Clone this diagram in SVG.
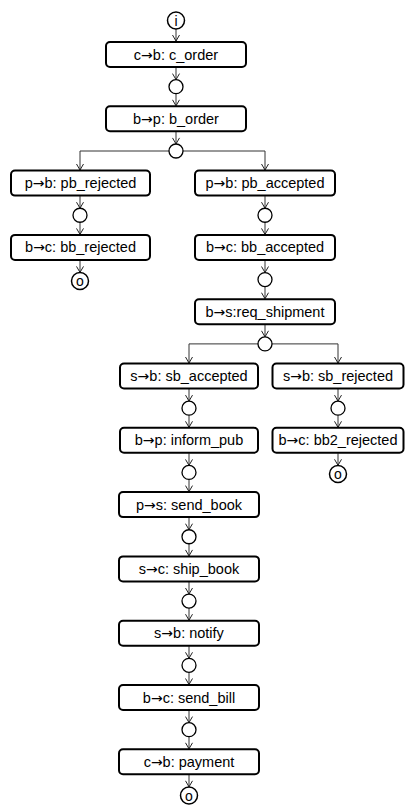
<svg xmlns="http://www.w3.org/2000/svg" width="407" height="806" viewBox="0 0 407 806">
<style>
.box{fill:#fff;stroke:#000;stroke-width:2}
.lbl{font-family:"Liberation Sans",Arial,sans-serif;font-size:14.5px;fill:#000;text-anchor:middle;dominant-baseline:central}
.ar{font-family:"DejaVu Sans",sans-serif;font-size:14px}
.pl{fill:#fff;stroke:#000;stroke-width:1.3}
.term{fill:#fff;stroke:#000;stroke-width:1.5}
.tl{font-family:"Liberation Sans",Arial,sans-serif;font-size:14px;fill:#000;text-anchor:middle;dominant-baseline:central}
.c{fill:none;stroke:#333;stroke-width:1}
</style>
<defs>
<marker id="ah" markerUnits="userSpaceOnUse" markerWidth="8" markerHeight="9" refX="6" refY="3.5" orient="auto" viewBox="-1 -1 8 9">
<path d="M0,0 L6,3.5 L0,7" fill="none" stroke="#222" stroke-width="1"/>
</marker>
</defs>
<g id="connectors">
<line class="c" x1="176" y1="29" x2="176" y2="41" marker-end="url(#ah)"/>
<line class="c" x1="176" y1="67.5" x2="176" y2="79.6" marker-end="url(#ah)"/>
<line class="c" x1="176" y1="93.7" x2="176" y2="105.8" marker-end="url(#ah)"/>
<line class="c" x1="176" y1="131.8" x2="176" y2="143.9" marker-end="url(#ah)"/>
<polyline class="c" points="169,151 80,151 80,170" marker-end="url(#ah)"/>
<polyline class="c" points="183,151 265,151 265,170" marker-end="url(#ah)"/>
<line class="c" x1="80" y1="196.1" x2="80" y2="208.2" marker-end="url(#ah)"/>
<line class="c" x1="80" y1="222.3" x2="80" y2="234.4" marker-end="url(#ah)"/>
<line class="c" x1="80" y1="260.4" x2="80" y2="272.4" marker-end="url(#ah)"/>
<line class="c" x1="265" y1="196.1" x2="265" y2="208.2" marker-end="url(#ah)"/>
<line class="c" x1="265" y1="222.3" x2="265" y2="234.4" marker-end="url(#ah)"/>
<line class="c" x1="265" y1="260.4" x2="265" y2="272.5" marker-end="url(#ah)"/>
<line class="c" x1="265" y1="286.6" x2="265" y2="298.7" marker-end="url(#ah)"/>
<line class="c" x1="265" y1="324.7" x2="265" y2="336.8" marker-end="url(#ah)"/>
<polyline class="c" points="258,343.9 189,343.9 189,363" marker-end="url(#ah)"/>
<polyline class="c" points="272,343.9 338,343.9 338,363" marker-end="url(#ah)"/>
<line class="c" x1="338" y1="389" x2="338" y2="401.1" marker-end="url(#ah)"/>
<line class="c" x1="338" y1="415.2" x2="338" y2="427.3" marker-end="url(#ah)"/>
<line class="c" x1="338" y1="453.3" x2="338" y2="465.3" marker-end="url(#ah)"/>
<line class="c" x1="189" y1="389" x2="189" y2="401.1" marker-end="url(#ah)"/>
<line class="c" x1="189" y1="415.2" x2="189" y2="427.3" marker-end="url(#ah)"/>
<line class="c" x1="189" y1="453.3" x2="189" y2="465.4" marker-end="url(#ah)"/>
<line class="c" x1="189" y1="479.5" x2="189" y2="491.6" marker-end="url(#ah)"/>
<line class="c" x1="189" y1="517.6" x2="189" y2="529.7" marker-end="url(#ah)"/>
<line class="c" x1="189" y1="543.8" x2="189" y2="555.9" marker-end="url(#ah)"/>
<line class="c" x1="189" y1="581.9" x2="189" y2="594" marker-end="url(#ah)"/>
<line class="c" x1="189" y1="608.1" x2="189" y2="620.2" marker-end="url(#ah)"/>
<line class="c" x1="189" y1="646.2" x2="189" y2="658.3" marker-end="url(#ah)"/>
<line class="c" x1="189" y1="672.4" x2="189" y2="684.5" marker-end="url(#ah)"/>
<line class="c" x1="189" y1="710.5" x2="189" y2="722.6" marker-end="url(#ah)"/>
<line class="c" x1="189" y1="736.7" x2="189" y2="748.8" marker-end="url(#ah)"/>
<line class="c" x1="189" y1="774.8" x2="189" y2="786.8" marker-end="url(#ah)"/>
</g>
<g id="start"><circle class="term" cx="176" cy="20.5" r="8.5"/><text class="tl" x="176" y="20.5">i</text></g>
<g id="n_c_order"><rect class="box" x="106" y="42" width="140" height="25" rx="4"/><text class="lbl" x="176" y="54.5">c<tspan class="ar">→</tspan>b: c_order</text></g>
<g id="p1"><circle class="pl" cx="176" cy="86.65" r="7"/></g>
<g id="n_b_order"><rect class="box" x="106" y="106.3" width="140" height="25" rx="4"/><text class="lbl" x="176" y="118.8">b<tspan class="ar">→</tspan>p: b_order</text></g>
<g id="p2"><circle class="pl" cx="176" cy="151" r="7"/></g>
<g id="n_pb_rejected"><rect class="box" x="11" y="170.6" width="139" height="25" rx="4"/><text class="lbl" x="80.5" y="183.1">p<tspan class="ar">→</tspan>b: pb_rejected</text></g>
<g id="p3"><circle class="pl" cx="80" cy="215.25" r="7"/></g>
<g id="n_bb_rejected"><rect class="box" x="11" y="234.9" width="139" height="25" rx="4"/><text class="lbl" x="80.5" y="247.4">b<tspan class="ar">→</tspan>c: bb_rejected</text></g>
<g id="end1"><circle class="term" cx="80" cy="281" r="8.5"/><text class="tl" x="80" y="281">o</text></g>
<g id="n_pb_accepted"><rect class="box" x="195" y="170.6" width="140" height="25" rx="4"/><text class="lbl" x="265" y="183.1">p<tspan class="ar">→</tspan>b: pb_accepted</text></g>
<g id="p4"><circle class="pl" cx="265" cy="215.25" r="7"/></g>
<g id="n_bb_accepted"><rect class="box" x="195" y="234.9" width="140" height="25" rx="4"/><text class="lbl" x="265" y="247.4">b<tspan class="ar">→</tspan>c: bb_accepted</text></g>
<g id="p5"><circle class="pl" cx="265" cy="279.55" r="7"/></g>
<g id="n_req_shipment"><rect class="box" x="195" y="299.2" width="140" height="25" rx="4"/><text class="lbl" x="265" y="311.7">b<tspan class="ar">→</tspan>s:req_shipment</text></g>
<g id="p6"><circle class="pl" cx="265" cy="343.9" r="7"/></g>
<g id="n_sb_accepted"><rect class="box" x="120" y="363.5" width="138" height="25" rx="4"/><text class="lbl" x="189" y="376">s<tspan class="ar">→</tspan>b: sb_accepted</text></g>
<g id="p7"><circle class="pl" cx="189" cy="408.15" r="7"/></g>
<g id="n_inform_pub"><rect class="box" x="120" y="427.8" width="138" height="25" rx="4"/><text class="lbl" x="189" y="440.3">b<tspan class="ar">→</tspan>p: inform_pub</text></g>
<g id="n_sb_rejected"><rect class="box" x="272.5" y="363.5" width="131" height="25" rx="4"/><text class="lbl" x="338" y="376">s<tspan class="ar">→</tspan>b: sb_rejected</text></g>
<g id="p8"><circle class="pl" cx="338" cy="408.15" r="7"/></g>
<g id="n_bb2_rejected"><rect class="box" x="272.5" y="427.8" width="131" height="25" rx="4"/><text class="lbl" x="338" y="440.3">b<tspan class="ar">→</tspan>c: bb2_rejected</text></g>
<g id="end2"><circle class="term" cx="338" cy="474" r="8.5"/><text class="tl" x="338" y="474">o</text></g>
<g id="p9"><circle class="pl" cx="189" cy="472.45" r="7"/></g>
<g id="n_send_book"><rect class="box" x="119" y="492.1" width="140" height="25" rx="4"/><text class="lbl" x="189" y="504.6">p<tspan class="ar">→</tspan>s: send_book</text></g>
<g id="p10"><circle class="pl" cx="189" cy="536.75" r="7"/></g>
<g id="n_ship_book"><rect class="box" x="119" y="556.4" width="140" height="25" rx="4"/><text class="lbl" x="189" y="568.9">s<tspan class="ar">→</tspan>c: ship_book</text></g>
<g id="p11"><circle class="pl" cx="189" cy="601.05" r="7"/></g>
<g id="n_notify"><rect class="box" x="119" y="620.7" width="140" height="25" rx="4"/><text class="lbl" x="189" y="633.2">s<tspan class="ar">→</tspan>b: notify</text></g>
<g id="p12"><circle class="pl" cx="189" cy="665.35" r="7"/></g>
<g id="n_send_bill"><rect class="box" x="119" y="685" width="140" height="25" rx="4"/><text class="lbl" x="189" y="697.5">b<tspan class="ar">→</tspan>c: send_bill</text></g>
<g id="p13"><circle class="pl" cx="189" cy="729.65" r="7"/></g>
<g id="n_payment"><rect class="box" x="119" y="749.3" width="140" height="25" rx="4"/><text class="lbl" x="189" y="761.8">c<tspan class="ar">→</tspan>b: payment</text></g>
<g id="end3"><circle class="term" cx="189" cy="795.5" r="8.5"/><text class="tl" x="189" y="795.5">o</text></g>
</svg>
